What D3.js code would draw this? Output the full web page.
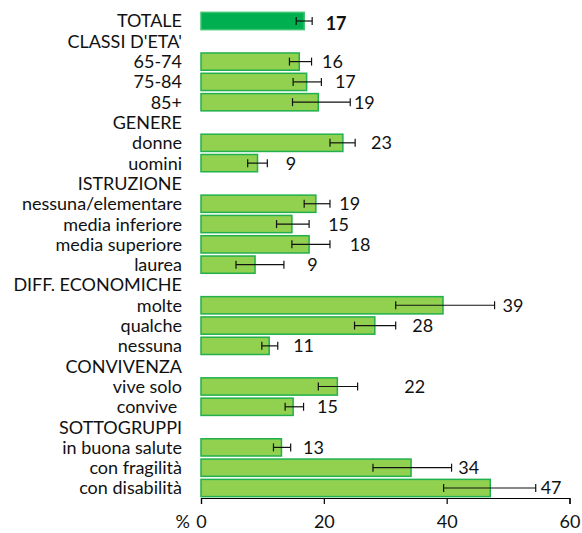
<!DOCTYPE html>
<html>
<head>
<meta charset="utf-8">
<script src="https://cdn.jsdelivr.net/npm/d3@7"></script>
<style>
  body { margin: 0; background: #fff; }
  svg { display: block; }
</style>
</head>
<body>
<div id="chart"></div>
<script>
// rows of the chart, top to bottom (headers have no bar)
const categories = ['TOTALE', "CLASSI D'ETA'", '65-74', '75-84', '85+', 'GENERE', 'donne', 'uomini',
  'ISTRUZIONE', 'nessuna/elementare', 'media inferiore', 'media superiore', 'laurea',
  'DIFF. ECONOMICHE', 'molte', 'qualche', 'nessuna', 'CONVIVENZA', 'vive solo', 'convive ',
  'SOTTOGRUPPI', 'in buona salute', 'con fragilità', 'con disabilità'];
const values = [16.8, null, 16.0, 17.2, 19.1, null, 23.1, 9.2, null, 18.7, 14.8, 17.6, 8.8,
  null, 39.4, 28.3, 11.1, null, 22.2, 15.0, null, 13.1, 34.2, 47.1];
const errLow = [15.5, null, 14.4, 15.0, 14.9, null, 21.0, 7.6, null, 16.8, 12.3, 14.8, 5.7,
  null, 31.7, 25.0, 9.9, null, 19.1, 13.7, null, 11.8, 28.0, 39.5];
const errHigh = [18.1, null, 18.0, 19.6, 24.3, null, 25.1, 10.8, null, 21.0, 17.6, 21.0, 13.5,
  null, 47.8, 31.7, 12.5, null, 25.5, 16.7, null, 14.6, 40.8, 54.5];
const valueLabels = ['17', null, '16', '17', '19', null, '23', '9', null, '19', '15', '18', '9',
  null, '39', '28', '11', null, '22', '15', null, '13', '34', '47'];
// where each value label starts, in % units
const labelAt = [20.3, null, 19.7, 21.8, 24.9, null, 27.7, 13.8, null, 22.5, 20.7, 24.2, 17.3,
  null, 49.1, 34.4, 15.0, null, 33.1, 18.9, null, 16.6, 41.9, 55.3];
const xTicks = [0, 20, 40, 60];

const width = 582, height = 533;
const font = 'Lato, "Open Sans", sans-serif';

const svg = d3.select('#chart').append('svg')
  .attr('width', width)
  .attr('height', height);

const x = d3.scaleLinear().domain([0, 60]).range([201, 569.5]);
const y = d3.scaleBand()
  .domain(d3.range(categories.length))
  .range([10.85, 498.15])
  .paddingInner(0.15)
  .paddingOuter(0.075);

const rows = categories.map((c, i) => ({
  name: c, value: values[i], lo: errLow[i], hi: errHigh[i],
  label: valueLabels[i], labelAt: labelAt[i], i: i
}));
const barRows = rows.filter(d => d.value !== null);

// category labels
svg.append('g').selectAll('text')
  .data(rows)
  .enter().append('text')
  .attr('x', 182)
  .attr('y', d => y(d.i) + y.bandwidth() / 2)
  .attr('dy', '0.36em')
  .attr('text-anchor', 'end')
  .style('white-space', 'pre')
  .style('font-family', font)
  .style('font-size', '18px')
  .attr('fill', '#111')
  .text(d => d.name);

// bars
svg.append('g').selectAll('rect')
  .data(barRows)
  .enter().append('rect')
  .attr('x', x(0))
  .attr('y', d => y(d.i))
  .attr('width', d => x(d.value) - x(0))
  .attr('height', y.bandwidth())
  .attr('fill', d => d.i === 0 ? '#00B050' : '#92D050')
  .attr('stroke', d => d.i === 0 ? '#3CC46E' : '#21B04B')
  .attr('stroke-width', 1.5);

// error bars
const err = svg.append('g')
  .attr('stroke', '#111')
  .attr('stroke-width', 1.2);
barRows.forEach(d => {
  const cy = y(d.i) + y.bandwidth() / 2;
  err.append('line').attr('x1', x(d.lo)).attr('x2', x(d.hi)).attr('y1', cy).attr('y2', cy);
  err.append('line').attr('x1', x(d.lo)).attr('x2', x(d.lo)).attr('y1', cy - 4).attr('y2', cy + 4);
  err.append('line').attr('x1', x(d.hi)).attr('x2', x(d.hi)).attr('y1', cy - 4).attr('y2', cy + 4);
});

// value labels
svg.append('g').selectAll('text')
  .data(barRows)
  .enter().append('text')
  .attr('x', d => x(d.labelAt))
  .attr('y', d => y(d.i) + y.bandwidth() / 2 + (d.i === 0 ? 3 : 0))
  .attr('dy', '0.36em')
  .style('font-family', font)
  .style('font-size', '18px')
  .style('font-weight', d => d.i === 0 ? 'bold' : 'normal')
  .attr('fill', '#111')
  .text(d => d.label);

// x axis
const axis = svg.append('g')
  .attr('transform', 'translate(0,498)')
  .call(d3.axisBottom(x).tickValues(xTicks).tickSize(6).tickPadding(11).tickFormat(d3.format('d')));
axis.select('.domain').attr('stroke', '#000').attr('stroke-width', 1.2);
axis.selectAll('.tick line').attr('stroke', '#000').attr('stroke-width', 1.2);
axis.selectAll('.tick text')
  .style('font-family', font)
  .style('font-size', '18px')
  .attr('fill', '#111');

svg.append('text')
  .attr('x', 190)
  .attr('y', 498 + 6 + 11)
  .attr('dy', '0.71em')
  .attr('text-anchor', 'end')
  .style('font-family', font)
  .style('font-size', '18px')
  .attr('fill', '#111')
  .text('%');
</script>
</body>
</html>
